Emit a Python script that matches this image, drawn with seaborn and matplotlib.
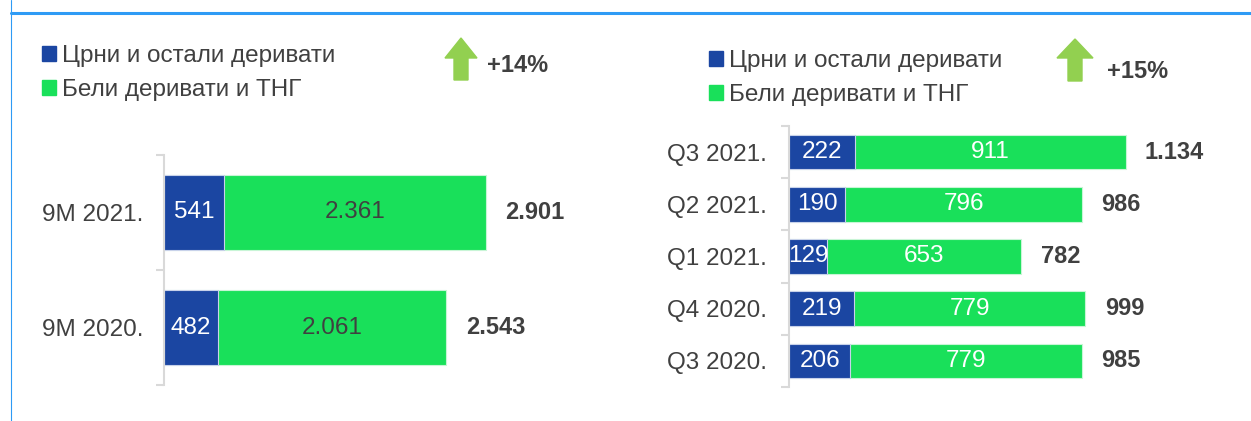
import numpy as np
import pandas as pd
import matplotlib
matplotlib.use('Agg')
import matplotlib.pyplot as plt
import seaborn as sns
from matplotlib.patches import Patch, Polygon
from matplotlib.lines import Line2D

# data
left_cats = ['9M 2021.', '9M 2020.']
left_black = [541, 482]
left_white = [2361, 2061]
left_total = [2901, 2543]
left_growth = '+14%'

right_cats = ['Q3 2021.', 'Q2 2021.', 'Q1 2021.', 'Q4 2020.', 'Q3 2020.']
right_black = [222, 190, 129, 219, 206]
right_white = [911, 796, 653, 779, 779]
right_total = [1134, 986, 782, 999, 985]
right_growth = '+15%'

legend_labels = ['Црни и остали деривати', 'Бели деривати и ТНГ']

BLUE = '#1B46A2'
GREEN = '#19E05A'
ARROW = '#92D050'
TXT = '#404040'
GRID = '#D9D9D9'

sns.set_style('white')
plt.rcParams['font.family'] = ['Liberation Sans', 'DejaVu Sans']

W, H = 1251, 421
fig = plt.figure(figsize=(W / 100, H / 100), dpi=100)


def px(x, y):
    # pixel (from top-left) -> figure fraction
    return x / W, 1 - y / H


def make_ax(x0, y_top, y_bot, width):
    return fig.add_axes([x0 / W, 1 - y_bot / H, width / W, (y_bot - y_top) / H])


def fmt(v):
    return f'{v:,}'.replace(',', '.')


def draw_panel(ax, cats, black, white, total, scale, green_txt, pad):
    df = pd.DataFrame({'cat': cats, 'black': black, 'white': white})
    df['stack'] = df['black'] + df['white']
    sns.barplot(data=df, y='cat', x='stack', color=GREEN, width=0.66,
                orient='h', ax=ax, saturation=1, edgecolor='#c8f5d6', linewidth=0.8)
    sns.barplot(data=df, y='cat', x='black', color=BLUE, width=0.66,
                orient='h', ax=ax, saturation=1, edgecolor='#c8d2ea', linewidth=0.8)
    n = len(cats)
    ax.set_ylim(n - 0.5, -0.5)
    ax.set_xlim(0, ax.get_position().width * W / scale)
    for i in range(n):
        ax.text(black[i] / 2, i, str(black[i]), ha='center', va='center',
                color='white', fontsize=17.5)
        ax.text(black[i] + white[i] / 2, i, fmt(white[i]), ha='center',
                va='center', color=green_txt, fontsize=17.5)
        ax.annotate(fmt(total[i]), (black[i] + white[i], i), xytext=(14, 0),
                    textcoords='offset points', ha='left', va='center',
                    color=TXT, fontsize=17, fontweight='bold')
    sns.despine(ax=ax, left=False, bottom=True)
    ax.spines['left'].set_color(GRID)
    ax.spines['left'].set_linewidth(1.5)
    ax.set_xlabel('')
    ax.set_ylabel('')
    ax.set_xticks([])
    ax.set_yticks(np.arange(-0.5, n, 1.0), minor=True)
    ax.tick_params(axis='y', which='major', length=0, pad=pad,
                   labelsize=17.5, labelcolor=TXT)
    ax.tick_params(axis='y', which='minor', length=6, width=1.5, color=GRID,
                   left=True)


ax1 = make_ax(164, 155, 385, 420)
draw_panel(ax1, left_cats, left_black, left_white, left_total, 0.111, TXT, 15)

ax2 = make_ax(789, 126, 387, 440)
draw_panel(ax2, right_cats, right_black, right_white, right_total, 0.297, 'white', 16)

# legends
handles = [Patch(color=BLUE), Patch(color=GREEN)]
for (lx, ly) in [(42, 45), (709, 50)]:
    fig.legend(handles, legend_labels, loc='upper left',
               bbox_to_anchor=px(lx, ly), frameon=False, fontsize=17.5,
               labelcolor=TXT, handlelength=0.58, handleheight=0.58,
               handletextpad=0.25, labelspacing=0.5, borderpad=0,
               borderaxespad=0)

# growth arrows
def up_arrow(cx, top, bottom, head_w, shaft_w, head_h):
    pts = [(cx, top), (cx + head_w / 2, top + head_h), (cx + shaft_w / 2, top + head_h),
           (cx + shaft_w / 2, bottom), (cx - shaft_w / 2, bottom),
           (cx - shaft_w / 2, top + head_h), (cx - head_w / 2, top + head_h)]
    fig.patches.append(Polygon([px(x, y) for x, y in pts], closed=True,
                               transform=fig.transFigure, color=ARROW))


up_arrow(461, 38, 80, 32, 14, 20)
fig.text(*px(487, 65), left_growth, ha='left', va='center', fontsize=17,
         fontweight='bold', color=TXT)
up_arrow(1075, 39, 81, 36, 14, 19)
fig.text(*px(1107, 72), right_growth, ha='left', va='center', fontsize=17,
         fontweight='bold', color=TXT)

# frame lines
fig.add_artist(Line2D([px(11, 0)[0], 1], [px(0, 12.5)[1]] * 2, color='#2E9BF5', lw=2.2))
fig.add_artist(Line2D([px(11, 0)[0]] * 2, [0, 1], color='#2E9BF5', lw=0.8))

fig.savefig('out.png', dpi=100)
